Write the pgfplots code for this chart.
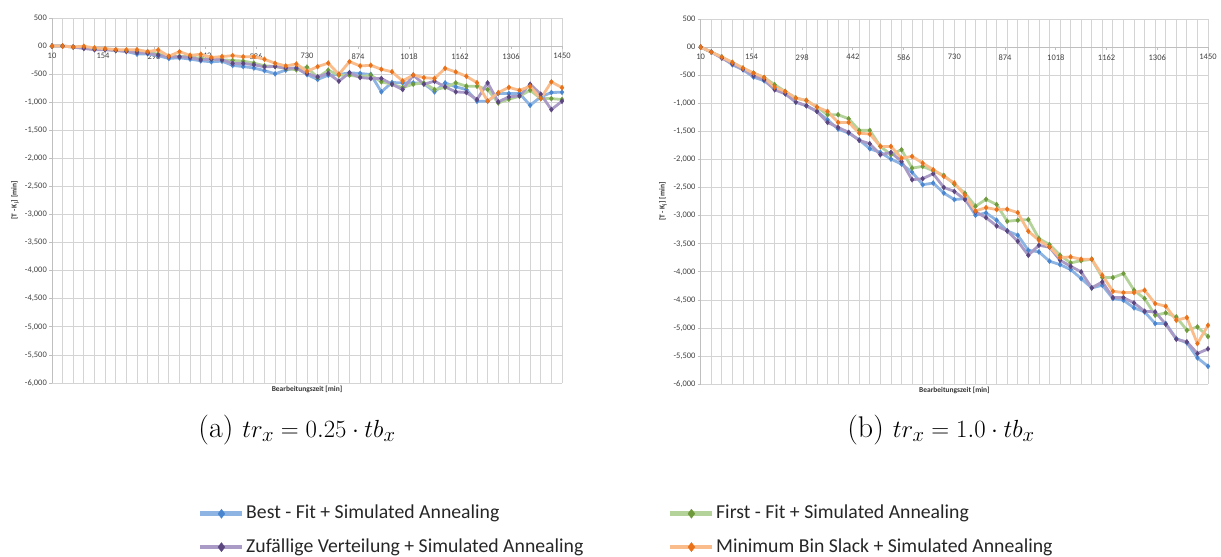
\documentclass[border=0pt]{standalone}
\usepackage{fontspec}
\newfontfamily\carl{Carlito}
\usepackage{pgfplots}
\usepackage{pgfplotstable}
\pgfplotsset{compat=1.18}

\definecolor{bfline}{HTML}{8DB4E2}\definecolor{bfmark}{HTML}{4A86D0}
\definecolor{ffline}{HTML}{B4D39B}\definecolor{ffmark}{HTML}{6E9A3C}
\definecolor{zvline}{HTML}{A99BC5}\definecolor{zvmark}{HTML}{5B4680}
\definecolor{mbline}{HTML}{F9BC8A}\definecolor{mbmark}{HTML}{E8711A}
\definecolor{gridc}{HTML}{D4D4D4}
\definecolor{axc}{HTML}{BFBFBF}

\pgfplotstableread{
x bf ff zv mb
10 0 0 0 0
40 0 0 0 0
70 -12 -18 -18 -15
100 -30 -30 -42 -3
130 -54 -54 -65 -33
160 -60 -54 -65 -45
190 -77 -77 -77 -62
220 -95 -83 -95 -68
250 -143 -101 -113 -65
280 -137 -113 -125 -98
310 -173 -143 -161 -68
340 -220 -184 -190 -180
370 -208 -184 -190 -100
400 -232 -190 -202 -165
430 -262 -220 -244 -146
460 -280 -232 -232 -202
490 -268 -244 -244 -187
520 -345 -256 -309 -170
550 -365 -268 -309 -190
580 -390 -303 -333 -187
610 -437 -351 -369 -235
640 -494 -363 -363 -306
670 -428 -399 -393 -354
700 -390 -422 -393 -318
730 -506 -375 -488 -450
760 -595 -560 -548 -366
790 -518 -429 -488 -303
820 -506 -518 -625 -503
850 -476 -518 -476 -277
880 -488 -548 -560 -354
910 -506 -518 -577 -342
940 -815 -637 -577 -413
970 -649 -679 -679 -458
1000 -655 -738 -774 -622
1030 -655 -679 -518 -515
1060 -667 -655 -679 -562
1090 -815 -774 -625 -577
1120 -655 -738 -726 -396
1150 -726 -655 -815 -461
1180 -774 -714 -827 -538
1210 -982 -714 -952 -652
1240 -982 -774 -655 -979
1270 -845 -1012 -994 -830
1300 -845 -946 -905 -735
1330 -845 -893 -887 -788
1360 -1054 -786 -679 -717
1390 -905 -935 -857 -934
1420 -827 -935 -1131 -637
1450 -821 -952 -982 -741
}\leftdata

\pgfplotstableread{
x bf ff zv mb
10 0 0 0 0
40 -89 -89 -89 -89
70 -178 -178 -196 -178
100 -314 -273 -297 -273
130 -403 -374 -391 -374
160 -534 -462 -510 -462
190 -599 -540 -581 -540
220 -740 -670 -759 -712
250 -830 -789 -830 -789
280 -978 -907 -978 -907
310 -1044 -949 -1044 -949
340 -1144 -1067 -1144 -1067
370 -1293 -1204 -1340 -1144
400 -1459 -1204 -1429 -1340
430 -1530 -1275 -1518 -1340
460 -1650 -1482 -1660 -1530
490 -1809 -1482 -1720 -1548
520 -1874 -1767 -1915 -1767
550 -1992 -1915 -1874 -1767
580 -2081 -1826 -2034 -1975
610 -2224 -2153 -2360 -1945
640 -2449 -2123 -2342 -2064
670 -2419 -2200 -2253 -2182
700 -2597 -2283 -2497 -2301
730 -2713 -2440 -2568 -2419
760 -2696 -2600 -2713 -2636
790 -2992 -2832 -2933 -2915
820 -2950 -2708 -3034 -2856
850 -3081 -2802 -3182 -2891
880 -3271 -3099 -3271 -2885
910 -3348 -3081 -3455 -2945
940 -3615 -3069 -3704 -3277
970 -3644 -3407 -3526 -3437
1000 -3810 -3514 -3560 -3555
1030 -3870 -3704 -3793 -3745
1060 -3958 -3840 -3900 -3733
1090 -4119 -3800 -4000 -3775
1120 -4285 -3775 -4285 -3775
1150 -4238 -4101 -4178 -4060
1180 -4474 -4101 -4457 -4344
1210 -4504 -4030 -4457 -4368
1240 -4640 -4326 -4552 -4368
1270 -4712 -4474 -4700 -4326
1300 -4919 -4771 -4712 -4564
1330 -4919 -4730 -4931 -4611
1360 -5186 -4801 -5198 -4860
1390 -5263 -5038 -5245 -4813
1420 -5530 -4979 -5453 -5275
1450 -5680 -5150 -5370 -4950
}\rightdata

\pgfplotsset{
  panel/.style={
    scale only axis, clip=false,
    xmin=10, xmax=1450, ymin=-6000, ymax=500,
    axis x line=middle, axis y line=left,
    axis line style={axc, line width=0.8bp, -},
    hide obscured x ticks=false, hide obscured y ticks=false,
    xtick={10,154,298,442,586,730,874,1018,1162,1306,1450},
    xticklabels={10,154,298,442,586,730,874,1018,1162,1306,1450},
    minor xtick={10,40,...,1450},
    xmajorgrids=false, xminorgrids=true, ymajorgrids=true,
    grid style={gridc, line width=0.8bp},
    minor grid style={gridc, line width=0.8bp},
    ytick={-6000,-5500,...,500},
    yticklabels={{-6,000},{-5,500},{-5,000},{-4,500},{-4,000},{-3,500},{-3,000},{-2,500},{-2,000},{-1,500},{-1,000},{-500},{00},{500}},
    tick align=outside,
    major tick length=3bp, minor tick length=0bp,
    tick style={axc, line width=0.8bp},
    x tick label style={font=\carl\fontsize{8.5}{10}\selectfont, text=black!75, inner sep=1bp, yshift=-3bp},
    y tick label style={font=\carl\fontsize{8.5}{10}\selectfont, text=black!75, inner sep=1bp, xshift=-1bp},
    xlabel={Bearbeitungszeit [min]},
    xlabel style={font=\carl\bfseries\fontsize{7.5}{9}\selectfont, text=black!80, at={(axis description cs:0.5,-0.0164)}, anchor=center},
    ylabel={[T - K\textsubscript{j}] [min]},
    ylabel style={font=\carl\bfseries\fontsize{7.5}{9}\selectfont, text=black!80, anchor=center},
    legend image code/.code={\draw[##1, line width=4.5bp, mark size=4.6bp, mark repeat=2, mark phase=2] plot coordinates {(0bp,0bp) (21bp,0bp) (42bp,0bp)};},
    legend style={draw=none, fill=none, inner sep=0pt, anchor=north west, row sep=15.4bp,
      font=\carl\fontsize{19.8}{23}\selectfont, text=black!85,
      nodes={inner ysep=0pt, inner xsep=1.5bp, text height=14bp, text depth=4bp}},
    legend cell align=left,
  },
  ser/.style n args={2}{color=#1, line width=2.8bp, mark=diamond*, mark size=2.6bp,
     mark options={solid, fill=#2, draw=#2, line width=0.3bp}},
}

\begin{document}
\begin{tikzpicture}
\useasboundingbox (0bp,0bp) rectangle (1221bp,557bp);

\begin{axis}[panel, at={(52bp,174bp)}, anchor=south west, width=510bp, height=365bp,
  ylabel style={at={(axis description cs:-0.0725,0.5)}},
  legend style={at={(axis description cs:0.2863,-0.333)}}]
  \addplot[ser={bfline}{bfmark}] table[x=x,y=bf] {\leftdata};
  \addlegendentry{Best - Fit + Simulated Annealing}
  \addplot[ser={ffline}{ffmark}, forget plot] table[x=x,y=ff] {\leftdata};
  \addplot[ser={zvline}{zvmark}] table[x=x,y=zv] {\leftdata};
  \addlegendentry{Zufällige Verteilung + Simulated Annealing}
  \addplot[ser={mbline}{mbmark}, forget plot] table[x=x,y=mb] {\leftdata};
\end{axis}

\begin{axis}[panel, at={(700.7bp,172.7bp)}, anchor=south west, width=507.3bp, height=365.3bp,
  ylabel style={at={(axis description cs:-0.0743,0.5)}},
  legend style={at={(axis description cs:-0.0645,-0.329)}}]
  \addplot[ser={bfline}{bfmark}, forget plot] table[x=x,y=bf] {\rightdata};
  \addplot[ser={ffline}{ffmark}] table[x=x,y=ff] {\rightdata};
  \addlegendentry{First - Fit + Simulated Annealing}
  \addplot[ser={zvline}{zvmark}, forget plot] table[x=x,y=zv] {\rightdata};
  \addplot[ser={mbline}{mbmark}] table[x=x,y=mb] {\rightdata};
  \addlegendentry{Minimum Bin Slack + Simulated Annealing}
\end{axis}

\node[font=\fontsize{30}{34}\selectfont] at (297bp,127bp) {(a) $tr_x = 0.25 \cdot tb_x$};
\node[font=\fontsize{30}{34}\selectfont] at (941bp,127bp) {(b) $tr_x = 1.0 \cdot tb_x$};
\end{tikzpicture}
\end{document}
